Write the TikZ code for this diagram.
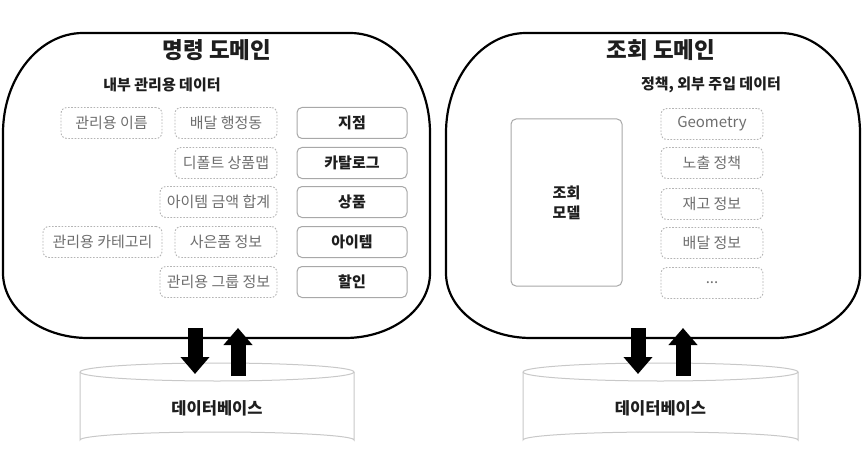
\documentclass[tikz,border=0pt]{standalone}
\usepackage{fontspec}
\setmainfont{Noto Sans CJK KR}
\usetikzlibrary{arrows.meta}
\definecolor{boxline}{HTML}{A8A8A8}
\definecolor{dashline}{HTML}{B4B4B4}
\definecolor{softtext}{HTML}{6E6E6E}
\definecolor{darktext}{HTML}{1E1E1E}
\definecolor{dbline}{HTML}{C8C8C8}
\newcommand\domainblob[4]{%
  \draw[blobline] (#1+80,#3) -- (#2-80,#3)
    .. controls (#2-36,#3) and (#2,#3+45) .. (#2,#3+100)
    -- (#2,#4-65)
    .. controls (#2,#4-29) and (#2-38,#4) .. (#2-85,#4)
    -- (#1+85,#4)
    .. controls (#1+38,#4) and (#1,#4-29) .. (#1,#4-65)
    -- (#1,#3+100)
    .. controls (#1,#3+45) and (#1+36,#3) .. (#1+80,#3) -- cycle;}
\newcommand\dbdrum[4]{% name, cx, half width, label
  \draw[dbdraw] (#2-#3,372) arc[start angle=180,end angle=0,x radius=#3,y radius=9]
     arc[start angle=0,end angle=-180,x radius=#3,y radius=9];
  \draw[dbdraw] (#2-#3,372) -- (#2-#3,440)
     arc[start angle=180,end angle=360,x radius=#3,y radius=8] -- (#2+#3,372);
  \node[dbtext] (#1) at (#2,408) {#4};}
\begin{document}
\begin{tikzpicture}[x=1pt,y=-1pt,
  blobline/.style={draw=black,line width=2.2pt},
  titletext/.style={font=\fontsize{22.5}{26}\selectfont\bfseries,text=darktext},
  subtext/.style={font=\fontsize{15}{18}\selectfont\bfseries,text=darktext},
  solidbox/.style={draw=boxline,line width=1pt,rounded corners=5pt,minimum width=110pt,minimum height=31pt,inner sep=0pt,font=\fontsize{15}{18}\selectfont\bfseries,text=darktext},
  dashbox/.style={draw=dashline,line width=0.9pt,dash pattern=on 1.6pt off 1.6pt,rounded corners=6pt,minimum height=31pt,inner sep=0pt,font=\fontsize{15}{18}\selectfont,text=softtext},
  dbdraw/.style={draw=dbline,line width=1pt},
  dbtext/.style={font=\fontsize{16.5}{20}\selectfont\bfseries,text=darktext},
  flow/.style={line width=15pt,-{Triangle[width=28pt,length=17pt]},black}]
\useasboundingbox (0,0) rectangle (862,468);
\fill[white] (0,0) rectangle (862,468);

% domain outlines
\domainblob{3}{430}{33}{338}
\domainblob{446}{860}{33}{338}

% titles
\node[titletext] (cmdtitle) at (217,50) {명령 도메인};
\node[titletext] (qrytitle) at (661,50) {조회 도메인};
\node[subtext] (cmdsub) at (162,85) {내부 관리용 데이터};
\node[subtext] (qrysub) at (711,85) {정책, 외부 주입 데이터};

% command domain: aggregates
\node[solidbox] (branch) at (352,123) {지점};
\node[solidbox] (catalog) at (352,163) {카탈로그};
\node[solidbox] (product) at (352,202) {상품};
\node[solidbox] (item) at (352,242) {아이템};
\node[solidbox] (discount) at (352,282) {할인};

% command domain: internal data
\node[dashbox,minimum width=102pt] (deliv) at (226,123) {배달 행정동};
\node[dashbox,minimum width=102pt] (defmap) at (226,163) {디폴트 상품맵};
\node[dashbox,minimum width=117pt] (itemsum) at (218.5,202) {아이템 금액 합계};
\node[dashbox,minimum width=102pt] (gift) at (226,242) {사은품 정보};
\node[dashbox,minimum width=117pt] (group) at (218.5,282) {관리용 그룹 정보};
\node[dashbox,minimum width=101pt] (admname) at (111.5,123) {관리용 이름};
\node[dashbox,minimum width=119pt] (admcat) at (102.5,242) {관리용 카테고리};

% query domain
\node[solidbox,minimum width=111pt,minimum height=167pt,align=center,font=\fontsize{15}{20}\selectfont\bfseries] (qmodel) at (566.5,202.5) {조회\\모델};
\node[dashbox,minimum width=102pt] (geo) at (712,124) {Geometry};
\node[dashbox,minimum width=102pt] (expose) at (712,163) {노출 정책};
\node[dashbox,minimum width=102pt] (stock) at (712,204) {재고 정보};
\node[dashbox,minimum width=102pt] (delivinfo) at (712,243) {배달 정보};
\node[dashbox,minimum width=102pt] (etc) at (712,283) {...};

% databases
\dbdrum{dbleft}{217}{137}{데이터베이스}
\dbdrum{dbright}{660.5}{137.5}{데이터베이스}

% arrows
\coordinate (ldtop) at (195,328);
\coordinate (ldend) at (195,374);
\coordinate (lubot) at (238,376);
\coordinate (lutip) at (238,328);
\coordinate (rdtop) at (638,328);
\coordinate (rdend) at (638,374);
\coordinate (rubot) at (683,376);
\coordinate (rutip) at (683,328);
\draw[flow] (ldtop) -- (ldend);
\draw[flow] (lubot) -- (lutip);
\draw[flow] (rdtop) -- (rdend);
\draw[flow] (rubot) -- (rutip);
\end{tikzpicture}
\end{document}
